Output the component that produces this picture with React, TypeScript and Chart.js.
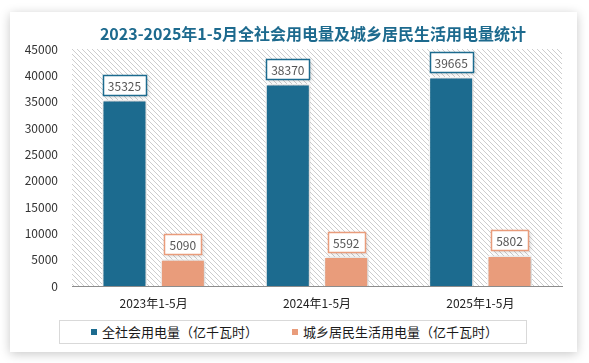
import React, { useEffect, useRef } from "react";
import { Chart, registerables } from "chart.js";

Chart.register(...registerables);

const titleText = "2023-2025年1-5月全社会用电量及城乡居民生活用电量统计";
const categories = ["2023年1-5月", "2024年1-5月", "2025年1-5月"];
const seriesNames = ["全社会用电量（亿千瓦时）", "城乡居民生活用电量（亿千瓦时）"];
const totalUse = [35325, 38370, 39665];
const residentUse = [5090, 5592, 5802];
const seriesColors = ["#1c6b8f", "#e99c7b"];
const yMin = 0;
const yMax = 45000;
const yStep = 5000;

const FONT = '"Noto Sans CJK SC", "Noto Sans", sans-serif';

function makeHatch(ctx: CanvasRenderingContext2D): CanvasPattern | string {
  const c = document.createElement("canvas");
  const n = 5;
  c.width = n;
  c.height = n;
  const g = c.getContext("2d");
  if (!g) return "#eee";
  g.fillStyle = "#ffffff";
  g.fillRect(0, 0, n, n);
  g.fillStyle = "#cdcdcd";
  for (let i = 0; i < n; i++) g.fillRect(i, i, 1, 1);
  const p = ctx.createPattern(c, "repeat");
  return p || "#eee";
}

const decorPlugin = {
  id: "decor",
  beforeDraw(chart: any) {
    const { ctx, chartArea } = chart;
    ctx.save();
    ctx.fillStyle = makeHatch(ctx);
    ctx.fillRect(chartArea.left, chartArea.top, chartArea.right - chartArea.left, chartArea.bottom - chartArea.top);
    ctx.restore();
  },
  beforeDatasetsDraw(chart: any) {
    const ctx = chart.ctx;
    ctx.save();
    ctx.shadowColor = "rgba(0,0,0,0.22)";
    ctx.shadowBlur = 4;
    ctx.shadowOffsetX = 1;
    ctx.shadowOffsetY = 0;
  },
  afterDatasetsDraw(chart: any) {
    const ctx = chart.ctx;
    ctx.restore();
    chart.data.datasets.forEach((ds: any, di: number) => {
      const meta = chart.getDatasetMeta(di);
      meta.data.forEach((bar: any, i: number) => {
        const text = String(ds.data[i]);
        ctx.save();
        ctx.font = "12px " + FONT;
        const tw = ctx.measureText(text).width;
        const w = Math.round(tw + 10);
        const h = 20;
        const x = Math.round(bar.x - w / 2) + 0.5;
        const y = Math.round(bar.y - 5 - h) + 0.5;
        ctx.shadowColor = "rgba(0,0,0,0.18)";
        ctx.shadowBlur = 4;
        ctx.shadowOffsetX = 1;
        ctx.shadowOffsetY = 1;
        ctx.fillStyle = "#ffffff";
        ctx.fillRect(x, y, w, h);
        ctx.shadowColor = "transparent";
        ctx.strokeStyle = seriesColors[di];
        ctx.lineWidth = 1.5;
        ctx.strokeRect(x, y, w, h);
        ctx.fillStyle = "#555555";
        ctx.textAlign = "center";
        ctx.textBaseline = "middle";
        ctx.fillText(text, bar.x, y + h / 2 + 0.5);
        ctx.restore();
      });
    });
  },
};

function ChartCanvas() {
  const ref = useRef<HTMLCanvasElement | null>(null);
  useEffect(() => {
    if (!ref.current) return;
    const chart = new Chart(ref.current, {
      type: "bar",
      data: {
        labels: categories,
        datasets: [
          {
            label: seriesNames[0],
            data: totalUse,
            backgroundColor: seriesColors[0],
            borderColor: "#ffffff",
            borderWidth: 1.5,
            categoryPercentage: 0.715,
            barPercentage: 0.77,
          },
          {
            label: seriesNames[1],
            data: residentUse,
            backgroundColor: seriesColors[1],
            borderColor: "#ffffff",
            borderWidth: 1.5,
            categoryPercentage: 0.715,
            barPercentage: 0.77,
          },
        ],
      },
      options: {
        responsive: false,
        animation: false,
        layout: { padding: { top: 37, right: 15, left: 0, bottom: 0 } },
        plugins: {
          legend: { display: false },
          title: { display: false },
          tooltip: { enabled: false },
        },
        scales: {
          x: {
            grid: { display: true, drawOnChartArea: false, drawTicks: false, color: "transparent" },
            border: { display: true, color: "#8c8c8c", width: 1 },
            ticks: { color: "#222222", font: { family: FONT, size: 12 }, padding: 10 },
            afterFit(scale: any) {
              scale.height = 30;
            },
          },
          y: {
            min: yMin,
            max: yMax,
            grid: { display: false, drawTicks: false },
            border: { display: false },
            ticks: {
              stepSize: yStep,
              color: "#333333",
              font: { family: FONT, size: 12 },
              padding: 14,
              callback: (v: any) => String(v),
            },
            afterFit(scale: any) {
              scale.width = 62;
            },
          },
        },
      },
      plugins: [decorPlugin],
    });
    return () => chart.destroy();
  }, []);
  return (
    <canvas
      ref={ref}
      width={567}
      height={304}
      style={{ position: "absolute", left: 0, top: 0, width: 567, height: 304 }}
    />
  );
}

export default function App() {
  return (
    <div style={{ position: "fixed", left: 0, top: 0, width: 589, height: 363, background: "#ffffff", overflow: "hidden" }}>
      <div
        style={{
          position: "absolute",
          left: 10,
          top: 12,
          width: 567,
          height: 340,
          background: "#ffffff",
          boxShadow: "0 2px 10px rgba(0,0,0,0.22)",
        }}
      >
        <ChartCanvas />
        <div
          style={{
            position: "absolute",
            left: 53,
            top: 11,
            width: 500,
            textAlign: "center",
            whiteSpace: "nowrap",
            fontFamily: FONT,
            fontWeight: 700,
            fontSize: 16,
            lineHeight: "20px",
            color: "#1d6a8e",
          }}
        >
          {titleText}
        </div>
        <div
          style={{
            position: "absolute",
            left: 49,
            top: 308,
            width: 468,
            height: 24,
            boxSizing: "border-box",
            border: "1px solid #d9d9d9",
            display: "flex",
            alignItems: "center",
            fontFamily: FONT,
            fontSize: 13,
            color: "#1a1a1a",
            whiteSpace: "nowrap",
          }}
        >
          {seriesNames.map((name, i) => (
            <div key={name} style={{ display: "flex", alignItems: "center", marginLeft: i === 0 ? 31 : 34 }}>
              <span style={{ display: "inline-block", width: 6, height: 6, background: seriesColors[i], marginRight: 5 }} />
              <span style={{ lineHeight: "16px" }}>{name}</span>
            </div>
          ))}
        </div>
      </div>
    </div>
  );
}
